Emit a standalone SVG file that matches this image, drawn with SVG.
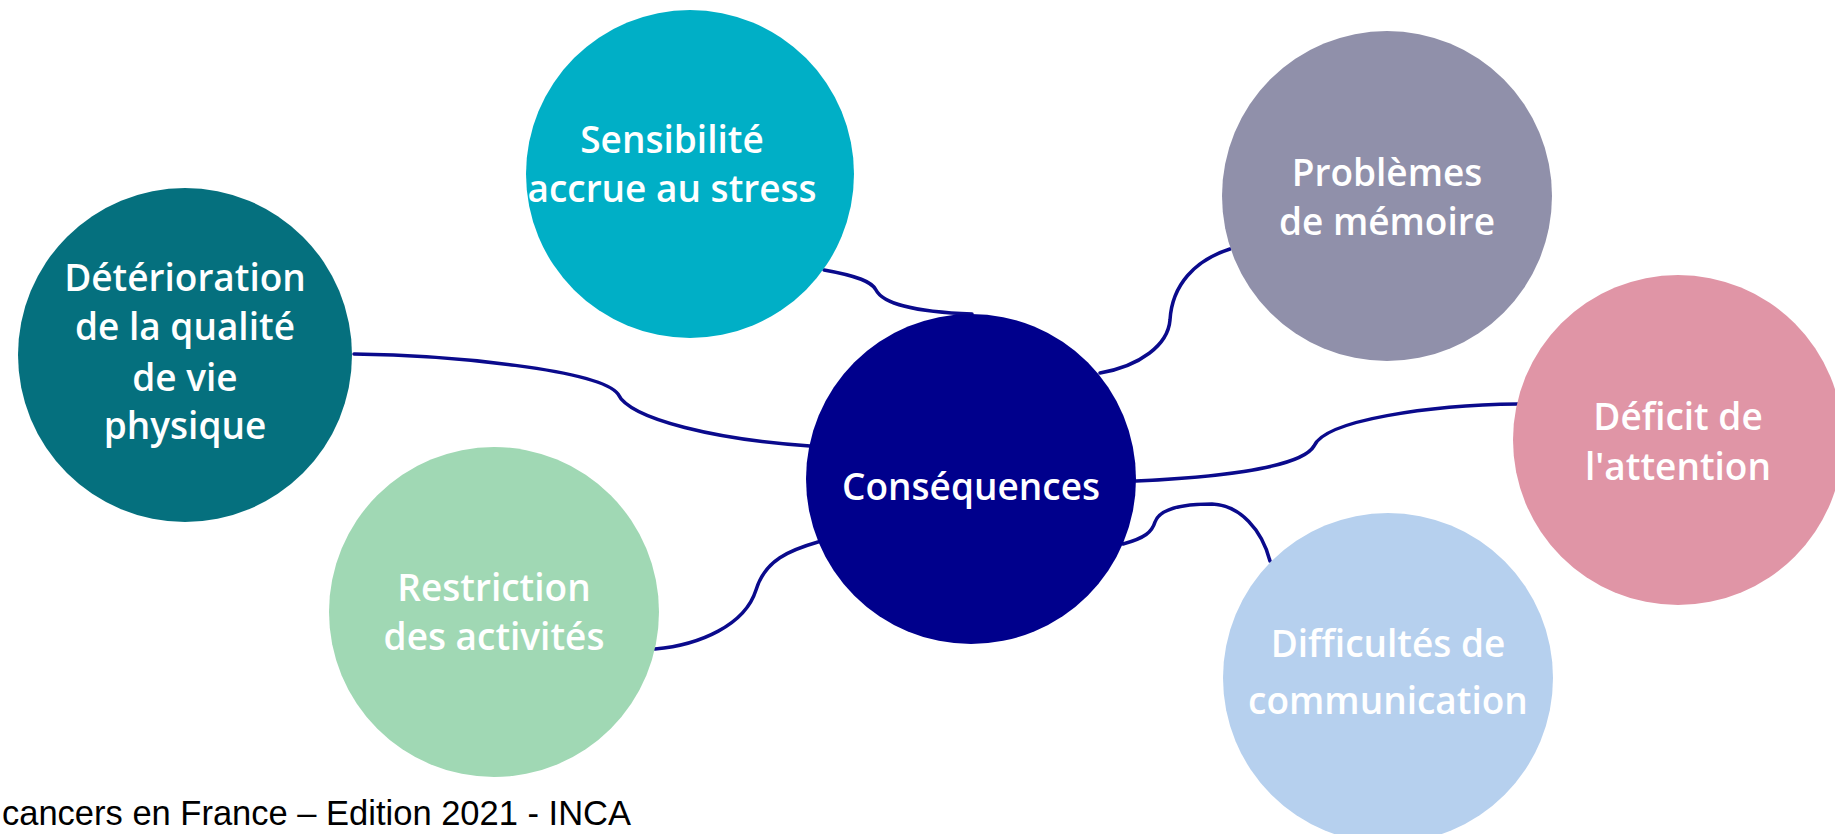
<svg xmlns="http://www.w3.org/2000/svg" width="1835" height="834" viewBox="0 0 1835 834">
<style>
.lbl{font-family:"Open Sans","Noto Sans",sans-serif;font-weight:600;font-size:37px;fill:#ffffff;text-anchor:middle}
.con{fill:none;stroke:#0a0a8c;stroke-width:3.5;stroke-linecap:round}
.foot{font-family:"Liberation Sans",Arial,sans-serif;font-size:34.5px;fill:#000000}
</style>
<rect width="1835" height="834" fill="#ffffff"/>
<g id="connectors">
<path class="con" d="M 824 270 C 858 276, 872 282, 876 290 C 882 302, 910 312, 972 314"/>
<path class="con" d="M 354 354 C 450 355, 600 370, 618 394 C 630 420, 720 440, 810 446"/>
<path class="con" d="M 655 649 C 700 645, 745 625, 756 590 C 765 560, 790 550, 818 542"/>
<path class="con" d="M 1100 373 C 1140 366, 1168 345, 1170 320 C 1172 285, 1195 260, 1230 249"/>
<path class="con" d="M 1136 481 C 1200 478, 1300 470, 1314 446 C 1325 420, 1430 405, 1518 404"/>
<path class="con" d="M 1123 544 C 1145 538, 1152 532, 1155 522 C 1160 508, 1185 504, 1212 504 C 1240 505, 1262 530, 1270 561"/>
</g>
<g id="sensibilite">
<circle cx="690" cy="174" r="164" fill="#00afc6"/>
<text class="lbl" x="672" y="153">Sensibilité</text>
<text class="lbl" x="672" y="202">accrue au stress</text>
</g>
<g id="deterioration">
<circle cx="185" cy="355" r="167" fill="#05707e"/>
<text class="lbl" x="185" y="291">Détérioration</text>
<text class="lbl" x="185" y="340">de la qualité</text>
<text class="lbl" x="185" y="391">de vie</text>
<text class="lbl" x="185" y="439">physique</text>
</g>
<g id="restriction">
<circle cx="494" cy="612" r="165" fill="#a0d8b4"/>
<text class="lbl" x="494" y="601">Restriction</text>
<text class="lbl" x="494" y="650">des activités</text>
</g>
<g id="consequences">
<circle cx="971" cy="479" r="165" fill="#00008c"/>
<text class="lbl" x="971" y="500">Conséquences</text>
</g>
<g id="problemes">
<circle cx="1387" cy="196" r="165" fill="#9090aa"/>
<text class="lbl" x="1387" y="186">Problèmes</text>
<text class="lbl" x="1387" y="235">de mémoire</text>
</g>
<g id="deficit">
<circle cx="1678" cy="440" r="165" fill="#e095a6"/>
<text class="lbl" x="1678" y="430">Déficit de</text>
<text class="lbl" x="1678" y="480">l'attention</text>
</g>
<g id="difficultes">
<circle cx="1388" cy="678" r="165" fill="#b6d0ee"/>
<text class="lbl" x="1388" y="657">Difficultés de</text>
<text class="lbl" x="1388" y="714">communication</text>
</g>
<text class="foot" x="2" y="825">cancers en France – Edition 2021 - INCA</text>
</svg>
